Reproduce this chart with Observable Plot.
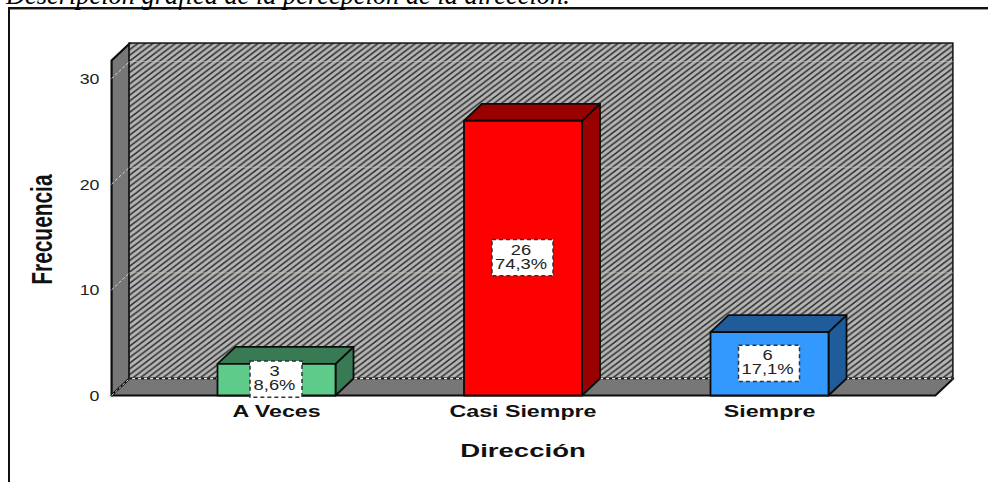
<!DOCTYPE html>
<html>
<head>
<meta charset="utf-8">
<script src="https://cdn.jsdelivr.net/npm/d3@7"></script>
<script src="https://cdn.jsdelivr.net/npm/@observablehq/plot@0.6"></script>
<style>
  html, body { margin: 0; padding: 0; background: #fff; width: 988px; height: 482px; overflow: hidden; }
  #sheet { position: absolute; left: 8px; top: 7px; right: -4px; bottom: -4px; border-left: 2px solid #111; border-top: 2px solid #111; box-shadow: inset 0 1px 0 #999; }
  #caption { position: absolute; left: 6px; top: -20px; font: italic 26.4px "Liberation Serif", serif; color: #000; white-space: nowrap; }
  #chart { position: absolute; left: 0; top: 0; }
</style>
</head>
<body>
<div id="sheet"></div>
<div id="caption">Descripción gráfica de la percepción de la dirección.</div>
<div id="chart"></div>
<script>
// Frequency of each answer about the perception of management
const categories = ["A Veces", "Casi Siempre", "Siempre"];
const counts = [3, 26, 6];
const percents = ["8,6%", "74,3%", "17,1%"];
const frontColors = ["#5fcb8b", "#ff0000", "#3399ff"];
const sideColors = ["#377a54", "#990000", "#1f5c99"];
const yTicks = [0, 10, 20, 30];

// Pseudo-3D box proportions, in scale units
const depthX = 0.073;
const depthY = 1.608;
const barHalf = 0.2394;
const floorLeft = -0.669;
const floorRight = 2.673;
const wallTop = 31.7;

const rows = categories.map((name, i) => ({
  i, name, count: counts[i], pct: percents[i], front: frontColors[i], side: sideColors[i]
}));

const poly = (pts, fill, strokeWidth = 1.8) =>
  Plot.line(pts.map(([x, y]) => ({x, y})), {
    x: "x", y: "y", fill, stroke: "#0c0c0c", strokeWidth, curve: "linear-closed"
  });

// Tags a mark so its glyphs are widened or narrowed once the SVG is in the page
const stretched = (factor) => ({
  render(index, scales, values, dimensions, context, next) {
    const g = next(index, scales, values, dimensions, context);
    g.setAttribute("data-stretch", factor);
    return g;
  }
});

const sans = "Liberation Sans, Arial, sans-serif";

const marks = [
  // side wall, floor and hatched back wall
  poly([[floorLeft, 0], [floorLeft, wallTop], [floorLeft + depthX, wallTop + depthY], [floorLeft + depthX, depthY]], "#777777", 2.2),
  poly([[floorLeft, 0], [floorRight, 0], [floorRight + depthX, depthY], [floorLeft + depthX, depthY]], "#777777", 1.8),
  Plot.rect([0], {
    x1: () => floorLeft + depthX, x2: () => floorRight + depthX,
    y1: () => depthY, y2: () => wallTop + depthY,
    fill: "url(#hatch)", stroke: "#111", strokeWidth: 1.5
  }),
  // grid on the walls
  Plot.ruleY(yTicks.slice(1), {
    y: d => d + depthY, x1: () => floorLeft + depthX, x2: () => floorRight + depthX,
    stroke: "#c9c9b4", strokeWidth: 1, strokeOpacity: 0.55
  }),
  Plot.link(yTicks, {
    x1: () => floorLeft, y1: d => d,
    x2: () => floorLeft + depthX, y2: d => d + depthY,
    stroke: "#d8d8c4", strokeWidth: 1, strokeDasharray: "3,2"
  }),
  Plot.ruleY([depthY], {
    y: d => d, x1: () => floorLeft + depthX, x2: () => floorRight + depthX,
    stroke: "#e8e8e0", strokeWidth: 1.5
  }),
  Plot.ruleY([depthY], {
    y: d => d, x1: () => floorLeft + depthX, x2: () => floorRight + depthX,
    stroke: "#111", strokeWidth: 1.5, strokeDasharray: "3,3"
  }),
  // bars: right side, top, front
  ...rows.flatMap(r => {
    const a = r.i - barHalf, b = r.i + barHalf, v = r.count;
    return [
      poly([[b, 0], [b, v], [b + depthX, v + depthY], [b + depthX, depthY]], r.side),
      poly([[a, v], [b, v], [b + depthX, v + depthY], [a + depthX, v + depthY]], r.side),
      poly([[a, 0], [b, 0], [b, v], [a, v]], r.front)
    ];
  }),
  // value boxes centred halfway up each bar
  Plot.rect(rows, {
    x1: d => d.i - (16 + d.pct.length * 9) / 2 / 246.5,
    x2: d => d.i + (16 + d.pct.length * 9) / 2 / 246.5,
    y1: d => d.count / 2 - 1.72,
    y2: d => d.count / 2 + 1.72,
    fill: "#fff", stroke: "#333", strokeWidth: 1.5, strokeDasharray: "4,3"
  }),
  Plot.text(rows, {
    x: "i", y: d => d.count / 2, text: d => String(d.count), dy: -8, dx: -2,
    fontFamily: sans, fontSize: 14, fill: "#222", ...stretched(1.31)
  }),
  Plot.text(rows, {
    x: "i", y: d => d.count / 2, text: "pct", dy: 6, dx: -2,
    fontFamily: sans, fontSize: 14, fill: "#222", ...stretched(1.31)
  }),
  // axes
  Plot.axisY({
    ticks: yTicks, tickSize: 0, tickPadding: 12, dy: 1, label: null,
    fontFamily: sans, fontSize: 14, fill: "#222", ...stretched(1.27)
  }),
  Plot.axisX({
    ticks: [0, 1, 2], tickFormat: i => categories[i], tickSize: 0, tickPadding: 10, label: null,
    fontFamily: sans, fontSize: 16, fontWeight: "bold", fill: "#111", ...stretched(1.45)
  }),
  Plot.text(["Frecuencia"], {
    frameAnchor: "left", textAnchor: "middle", dx: -69, y: () => 15.7, text: d => d, rotate: -90,
    fontFamily: sans, fontSize: 29, fontWeight: "bold", fill: "#111", ...stretched(0.72)
  }),
  Plot.text(["Dirección"], {
    x: () => 1, frameAnchor: "bottom", dy: 61, text: d => d,
    fontFamily: sans, fontSize: 19, fontWeight: "bold", fill: "#111", ...stretched(1.45)
  })
];

const chart = Plot.plot({
  width: 988,
  height: 482,
  marginLeft: 111,
  marginRight: 35,
  marginTop: 40,
  marginBottom: 87,
  style: { background: "transparent", overflow: "visible" },
  x: { type: "linear", domain: [0, 2], range: [276, 769] },
  y: { type: "linear", domain: [0, 30], range: [395, 78] },
  marks
});

// Diagonal hatch used on the back wall
const defs = document.createElementNS("http://www.w3.org/2000/svg", "defs");
defs.innerHTML = `<pattern id="hatch" patternUnits="userSpaceOnUse" width="7.5" height="5.7">
  <rect width="7.5" height="5.7" fill="#b6b6b6"/>
  <path d="M-3.75 2.85 L3.75 -2.85 M0 5.7 L7.5 0 M3.75 8.55 L11.25 2.85" stroke="#303030" stroke-width="1.6" fill="none"/>
</pattern>`;
chart.insertBefore(defs, chart.firstChild);

document.getElementById("chart").appendChild(chart);

// Apply the glyph stretch now that text can be measured
chart.querySelectorAll("[data-stretch]").forEach(g => {
  const k = +g.getAttribute("data-stretch");
  g.querySelectorAll("text").forEach(t => {
    t.setAttribute("textLength", t.getComputedTextLength() * k);
    t.setAttribute("lengthAdjust", "spacingAndGlyphs");
  });
});
</script>
</body>
</html>
